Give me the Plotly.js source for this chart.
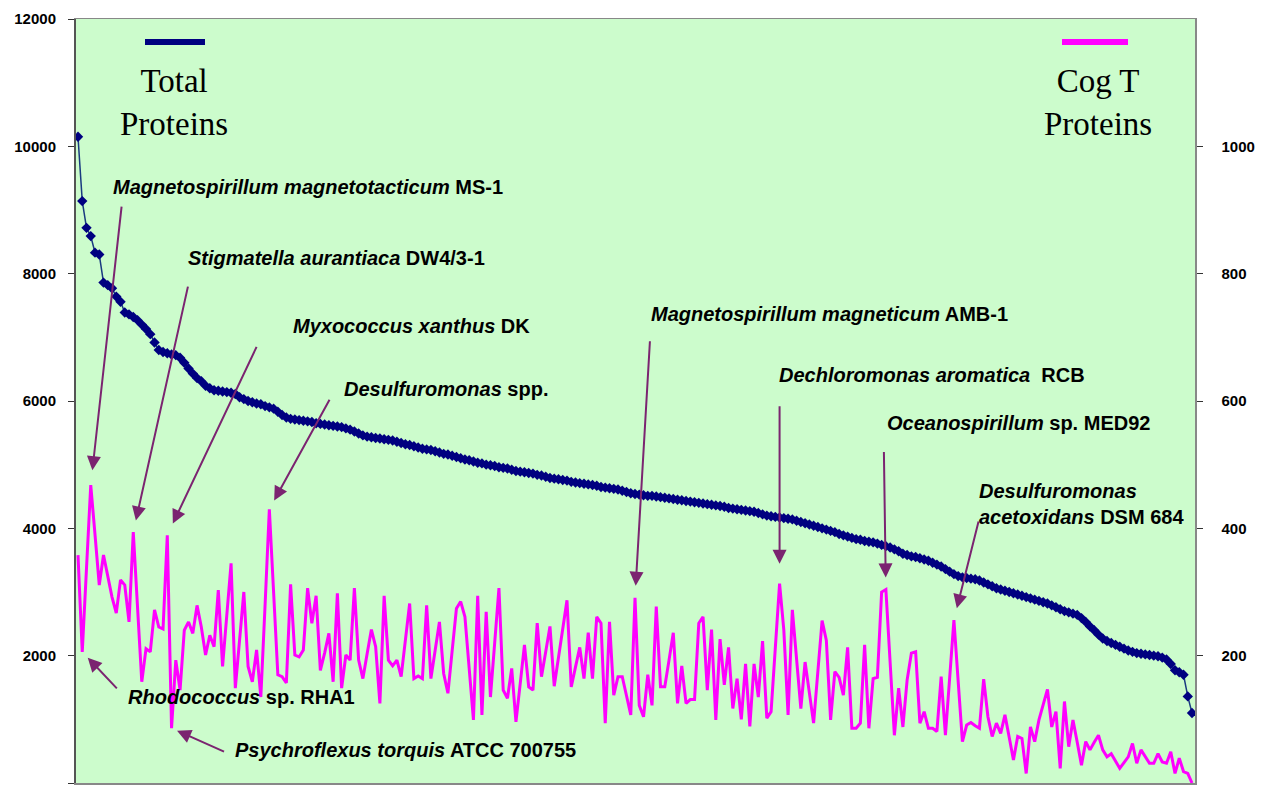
<!DOCTYPE html>
<html>
<head>
<meta charset="utf-8">
<script src="https://cdn.plot.ly/plotly-3.0.1.min.js"></script>
<style>html,body{margin:0;padding:0;background:#fff;}#chart{width:1262px;height:787px;}</style>
</head>
<body>
<div id="chart"></div>
<script>
// Total proteins per genome (left axis), ranked
const totalProteins = [10150,9140,8720,8590,8330,8300,7860,7820,7770,7640,7560,7390,7360,7320,7270,7200,7130,7050,6920,6800,
6770,6750,6730,6720,6680,6600,6510,6430,6360,6310,6240,6200,6170,6160,6150,6140,6130,6110,6060,6030,
6000,5980,5960,5950,5920,5900,5880,5830,5780,5740,5720,5710,5700,5690,5680,5670,5650,5640,5630,5620,
5610,5600,5590,5570,5550,5520,5490,5460,5440,5430,5420,5410,5400,5390,5380,5360,5340,5320,5310,5290,
5270,5250,5240,5230,5210,5190,5170,5160,5140,5120,5100,5080,5070,5050,5030,5020,5000,4990,4980,4960,
4950,4940,4920,4900,4890,4880,4870,4860,4840,4830,4810,4790,4780,4770,4760,4750,4730,4720,4710,4700,
4690,4680,4670,4650,4640,4630,4620,4610,4590,4570,4550,4540,4530,4520,4510,4510,4500,4490,4480,4470,
4460,4450,4440,4430,4420,4410,4400,4390,4380,4370,4360,4350,4340,4320,4310,4300,4290,4280,4270,4260,
4240,4220,4200,4190,4180,4170,4160,4150,4140,4120,4100,4080,4060,4040,4020,4000,3980,3960,3940,3910,
3890,3870,3850,3830,3820,3800,3790,3780,3760,3740,3720,3700,3670,3640,3600,3580,3560,3550,3530,3510,
3490,3460,3430,3400,3360,3320,3280,3250,3230,3220,3210,3200,3180,3150,3120,3090,3060,3040,3020,3000,
2980,2960,2940,2920,2900,2880,2860,2840,2820,2790,2760,2730,2700,2680,2660,2640,2590,2530,2460,2400,
2330,2270,2230,2200,2170,2140,2110,2080,2060,2040,2030,2020,2010,2000,1990,1970,1940,1870,1770,1740,
1700,1360,1100];

// COG T proteins per genome (right axis), same ranking
const cogTProteins = [358,206,337,468,390,311,358,325,292,267,319,311,253,394,277,159,211,206,272,245,242,389,86,193,146,240,253,235,279,245,201,232,214,303,183,264,345,149,225,300,183,159,209,135,
280,430,300,170,167,157,312,201,198,209,306,251,294,177,204,235,159,298,149,201,193,306,193,164,203,241,214,125,294,193,184,193,167,225,282,164,168,164,279,164,210,253,172,
141,208,274,285,261,180,99,294,107,269,135,220,306,146,133,180,96,156,217,151,146,251,167,206,246,152,197,242,287,151,182,213,164,236,164,261,251,94,253,138,167,167,137,107,291,
122,104,170,122,277,151,151,193,236,125,184,125,131,131,251,261,146,241,99,226,154,213,117,164,100,187,89,187,135,223,102,112,212,313,240,107,272,195,117,190,142,94,175,255,224,99,175,166,138,213,86,86,94,217,86,164,166,300,304,190,75,149,88,162,204,206,94,112,86,86,81,167,75,165,256,160,65,91,95,90,86,163,104,73,94,78,107,72,36,73,70,15,88,65,99,123,147,88,112,23,128,57,99,64,28,65,52,64,75,52,41,46,35,23,32,41,62,31,52,41,31,31,46,33,31,49,15,39,18,15,0];

// Labelled genomes: [rank, label html]
const labelRanks = [4, 14, 22, 46, 132, 166, 191, 207, 2, 23];
const labelTexts = [
  '<i>Magnetospirillum magnetotacticum</i> MS-1',
  '<i>Stigmatella aurantiaca</i> DW4/3-1',
  '<i>Myxococcus xanthus</i> DK',
  '<i>Desulfuromonas</i> spp.',
  '<i>Magnetospirillum magneticum</i> AMB-1',
  '<i>Dechloromonas aromatica</i>  RCB',
  '<i>Oceanospirillum</i> sp. MED92',
  '<i>Desulfuromonas</i><br><i>acetoxidans</i> DSM 684',
  '<i>Rhodococcus</i> sp. RHA1',
  '<i>Psychroflexus torquis</i> ATCC 700755'
];
const leftTicks = [0,2000,4000,6000,8000,10000,12000];
const rightTicks = [200,400,600,800,1000];

const n = Math.min(totalProteins.length, cogTProteins.length);
const rank = [];
for (let i = 1; i <= n; i++) rank.push(i);

// layout geometry (pixels)
const L = 76, R = 1195, T = 19, B = 783;
const W = 1262, H = 787;
const px = x => (x - L) / (R - L);
const py = y => (B - y) / (B - T);

const labelFont = {family: 'Liberation Sans, Arial, sans-serif', size: 20, color: '#000', weight: 700};
// text placements: [left px, center py]
const textPos = [[111,187],[186,258],[291,326],[342,389],[649,314],[777,375],[885,423],[977,504],[126,697],[233,750]];
// arrow tails relative to the marked point (pixels) and standoff
const arrowCfg = [[31,-280,15],[55,-247,12],[90,-190,13],[61,-111,10],[15,-258,12],[0,-179,20],[-2,-139,12],[25,-100,12],[36,38,8],[54,24,6]];

const annotations = [];
labelTexts.forEach((t, k) => {
  annotations.push({
    xref: 'paper', yref: 'paper', x: px(textPos[k][0]), y: py(textPos[k][1]),
    xanchor: 'left', yanchor: 'middle', align: 'left', showarrow: false,
    text: t, font: labelFont
  });
  const r = labelRanks[k];
  annotations.push({
    xref: 'x', yref: 'y2', x: rank[r - 1], y: cogTProteins[r - 1],
    text: '', showarrow: true, ax: arrowCfg[k][0], ay: arrowCfg[k][1],
    standoff: arrowCfg[k][2], arrowcolor: '#7b2470', arrowwidth: 2,
    arrowhead: 2, arrowsize: 1.4
  });
});
annotations.push({xref:'paper', yref:'paper', x: px(174), y: py(103), xanchor:'center', yanchor:'middle',
  showarrow:false, text:'Total<br>Proteins', font:{family:'Liberation Serif, Times New Roman, serif', size:33, color:'#000'}});
annotations.push({xref:'paper', yref:'paper', x: px(1098), y: py(103), xanchor:'center', yanchor:'middle',
  showarrow:false, text:'Cog T<br>Proteins', font:{family:'Liberation Serif, Times New Roman, serif', size:33, color:'#000'}});

const shapes = [
  {type:'line', xref:'paper', yref:'paper', x0:px(145), x1:px(205), y0:py(42), y1:py(42), line:{color:'#000080', width:6}},
  {type:'line', xref:'paper', yref:'paper', x0:px(1062), x1:px(1128), y0:py(42), y1:py(42), line:{color:'#ff00ff', width:6}}
];

const tickFont = {family: 'Liberation Sans, Arial, sans-serif', size: 15, color: '#000', weight: 700};

const traces = [
  {x: rank, y: cogTProteins, yaxis: 'y2', type: 'scatter', mode: 'lines', name: 'Cog T Proteins',
   line: {color: '#ff00ff', width: 3}},
  {x: rank, y: totalProteins, yaxis: 'y', type: 'scatter', mode: 'lines+markers', name: 'Total Proteins',
   line: {color: '#1a3a80', width: 1.5}, marker: {symbol: 'diamond', size: 8, color: '#000080'}}
];

const layout = {
  width: W, height: H,
  margin: {l: L, r: W - R, t: T, b: H - B, pad: 0},
  paper_bgcolor: '#ffffff', plot_bgcolor: '#ccfccc',
  showlegend: false,
  xaxis: {range: [0.53, 263.7], showticklabels: false, ticks: '', showgrid: false, zeroline: false,
          showline: true, mirror: true, linecolor: '#888888', linewidth: 1.5},
  yaxis: {range: [0, 12000], tickvals: leftTicks, ticktext: leftTicks.map(String), ticks: 'outside', ticklen: 6,
          tickcolor: '#333', showgrid: false, zeroline: false, showline: true, linecolor: '#555555', linewidth: 2,
          tickfont: tickFont, ticklabelstandoff: 9},
  yaxis2: {range: [0, 1200], overlaying: 'y', side: 'right', tickvals: rightTicks, ticktext: rightTicks.map(String),
           ticks: 'outside', ticklen: 6, tickcolor: '#333', showgrid: false, zeroline: false, showline: true,
           linecolor: '#888888', linewidth: 1.5, tickfont: tickFont, ticklabelstandoff: 16},
  annotations: annotations,
  shapes: shapes
};

Plotly.newPlot('chart', traces, layout, {displayModeBar: false, staticPlot: true});
</script>
</body>
</html>
